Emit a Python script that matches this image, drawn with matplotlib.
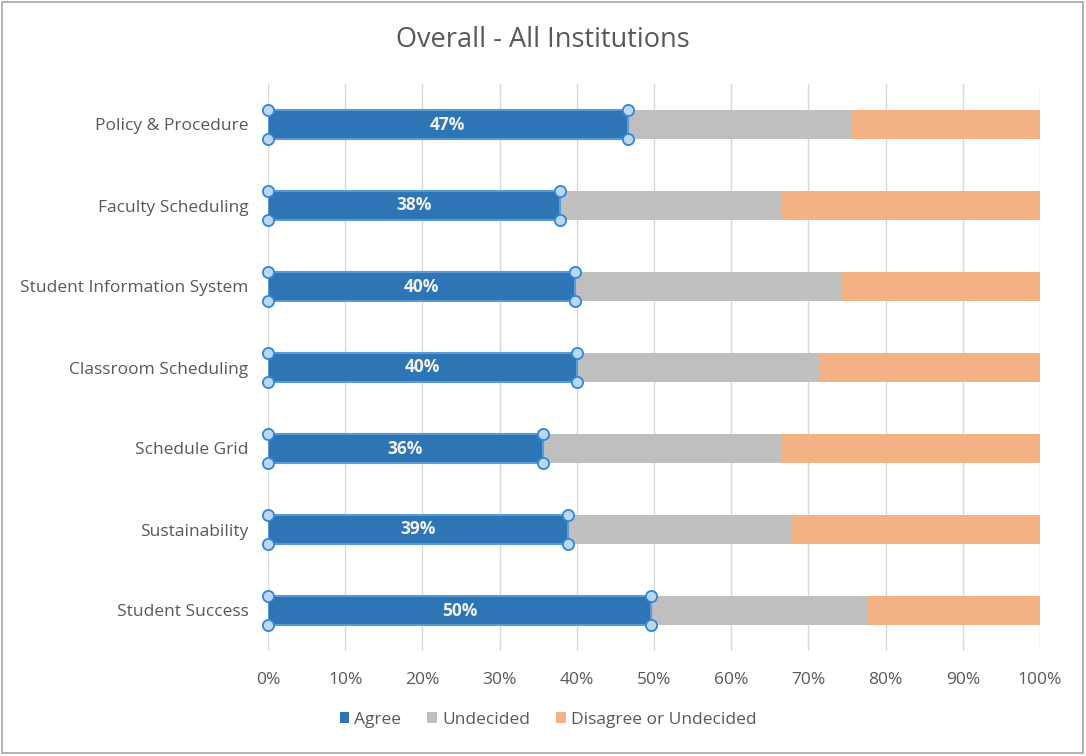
import matplotlib.pyplot as plt
from matplotlib.patches import Rectangle, Patch
import numpy as np

categories = ["Policy & Procedure", "Faculty Scheduling", "Student Information System",
              "Classroom Scheduling", "Schedule Grid", "Sustainability", "Student Success"]
agree = [46.6, 37.8, 39.8, 40.0, 35.6, 38.9, 49.6]
undecided = [28.9, 28.7, 34.6, 31.5, 30.9, 28.9, 28.1]
disagree = [100 - a - u for a, u in zip(agree, undecided)]
agree_labels = ["47%", "38%", "40%", "40%", "36%", "39%", "50%"]
xticks = list(range(0, 101, 10))
xtick_labels = [f"{t}%" for t in xticks]
series_names = ["Agree", "Undecided", "Disagree or Undecided"]

plt.rcParams['font.family'] = ['Open Sans', 'DejaVu Sans']
txt = '#595959'
c_agree, c_und, c_dis = '#2E75B6', '#BFBFBF', '#F4B183'

fig = plt.figure(figsize=(10.86, 7.56), dpi=100)
fig.patches.append(Rectangle((0.002, 0.004), 0.995, 0.993, transform=fig.transFigure,
                             fill=False, edgecolor='#A6A6A6', lw=1.2))
ax = fig.add_axes([268/1086, 1 - 651/756, (1040-268)/1086, (651-84)/756])

y = np.arange(len(categories))
h = 0.36
ax.barh(y, agree, height=h, color=c_agree, edgecolor='#5B9BD5', lw=1.5, label=series_names[0], zorder=3)
ax.barh(y, undecided, left=agree, height=h, color=c_und, label=series_names[1], zorder=2)
left2 = [a + u for a, u in zip(agree, undecided)]
ax.barh(y, disagree, left=left2, height=h, color=c_dis, label=series_names[2], zorder=2)

for yi, a, lab in zip(y, agree, agree_labels):
    ax.text(a / 2, yi, lab, ha='center', va='center', color='#F2F2F2', fontsize=12.5,
            fontweight='bold', zorder=5)
    xs = [0, 0, a, a]
    ys = [yi - h/2, yi + h/2, yi - h/2, yi + h/2]
    ax.scatter(xs, ys, s=65, facecolor='#BDD7EE', edgecolor='#2E86DE', lw=1.3, zorder=6, clip_on=False)

ax.set_xlim(0, 100)
ax.set_ylim(len(categories) - 0.5, -0.5)
ax.set_yticks(y)
ax.set_yticklabels(categories, color=txt, fontsize=12.5)
ax.set_xticks(xticks)
ax.set_xticklabels(xtick_labels, color=txt, fontsize=12.5)
ax.tick_params(axis='both', length=0)
ax.tick_params(axis='x', pad=15)
ax.tick_params(axis='y', pad=14)
ax.grid(axis='x', color='#D9D9D9', lw=1, zorder=0)
ax.set_axisbelow(True)
for s in ax.spines.values():
    s.set_visible(False)

fig.text(0.5, 1 - 40/756, "Overall - All Institutions", ha='center', va='center',
         fontsize=19.5, color=txt)

hs = [Patch(facecolor=c, edgecolor='none') for c in (c_agree, c_und, c_dis)]
fig.legend(hs, series_names, loc='center', bbox_to_anchor=(548/1086, 1 - 720/756),
           ncol=3, frameon=False, fontsize=12.5, labelcolor=txt, handlelength=0.55,
           handleheight=0.6, handletextpad=0.3, columnspacing=1.5)

fig.savefig('out.png', dpi=100)
